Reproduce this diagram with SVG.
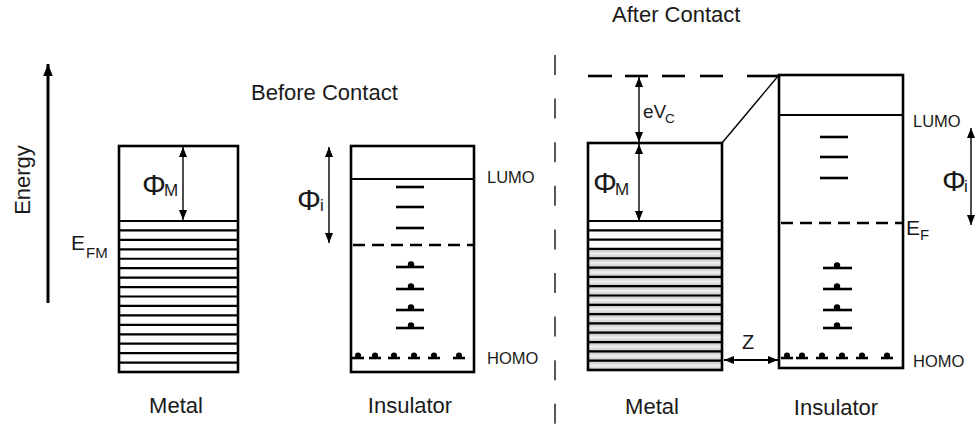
<svg xmlns="http://www.w3.org/2000/svg" width="975" height="435" viewBox="0 0 975 435">
<style>
text{font-family:"Liberation Sans",Arial,sans-serif;fill:#1a1a1a}
.t{font-size:22px}
.lab{font-size:16.5px}
.phi{font-size:30px}
.sub{font-size:17px}
.box{fill:none;stroke:#000;stroke-width:2.6}
.band{stroke:#000;stroke-width:2.2}
.lvl{stroke:#000;stroke-width:2.6}
.dash{stroke:#000;stroke-width:2.6;stroke-dasharray:12 7}
.thin{stroke:#000;stroke-width:1.4;fill:none}
.dot{fill:#000}
</style>
<defs>
<marker id="ah" viewBox="0 0 10 8" refX="10" refY="4" markerWidth="10" markerHeight="8" markerUnits="userSpaceOnUse" orient="auto-start-reverse"><path d="M0,0 L10,4 L0,8 z" fill="#000"/></marker>
<marker id="ahBig" viewBox="0 0 10 8" refX="10" refY="4" markerWidth="12" markerHeight="10" markerUnits="userSpaceOnUse" orient="auto"><path d="M0,0 L10,4 L0,8 z" fill="#000"/></marker>
<linearGradient id="strip" x1="0" y1="0" x2="0" y2="1">
<stop offset="0" stop-color="#b8b8b8"/><stop offset="0.5" stop-color="#f0f0f0"/><stop offset="1" stop-color="#c0c0c0"/>
</linearGradient>
</defs>

<!-- Titles -->
<text class="t" x="251" y="100">Before Contact</text>
<text class="t" x="612" y="22">After Contact</text>

<!-- Divider -->
<line x1="555" y1="55" x2="555" y2="435" stroke="#000" stroke-width="1.3" stroke-dasharray="20 23.6"/>

<!-- Energy axis -->
<g id="energy-axis">
<text class="t" transform="translate(30,180) rotate(-90)" text-anchor="middle">Energy</text>
</g>

<!-- Metal before -->
<g id="metal-before">
<rect x="119" y="146" width="119" height="226" fill="#fff"/>
<g class="band">
<line x1="119" y1="221" x2="238" y2="221"/>
<line x1="119" y1="230.44" x2="238" y2="230.44"/>
<line x1="119" y1="239.88" x2="238" y2="239.88"/>
<line x1="119" y1="249.32" x2="238" y2="249.32"/>
<line x1="119" y1="258.76" x2="238" y2="258.76"/>
<line x1="119" y1="268.2" x2="238" y2="268.2"/>
<line x1="119" y1="277.64" x2="238" y2="277.64"/>
<line x1="119" y1="287.08" x2="238" y2="287.08"/>
<line x1="119" y1="296.52" x2="238" y2="296.52"/>
<line x1="119" y1="305.96" x2="238" y2="305.96"/>
<line x1="119" y1="315.4" x2="238" y2="315.4"/>
<line x1="119" y1="324.84" x2="238" y2="324.84"/>
<line x1="119" y1="334.28" x2="238" y2="334.28"/>
<line x1="119" y1="343.72" x2="238" y2="343.72"/>
<line x1="119" y1="353.16" x2="238" y2="353.16"/>
<line x1="119" y1="362.6" x2="238" y2="362.6"/>
</g>
<rect class="box" x="119" y="146" width="119" height="226"/>
<text class="phi" x="142" y="195">Φ</text><text class="sub" x="164" y="196">M</text>
<text x="71" y="250" font-size="21">E</text><text x="86" y="258" font-size="15">FM</text>
<text class="t" x="176" y="413" text-anchor="middle">Metal</text>
</g>

<!-- Insulator before -->
<g id="insulator-before">
<rect class="box" x="351" y="146" width="123" height="226"/>
<line class="band" x1="351" y1="179" x2="474" y2="179" stroke-width="2.6"/>
<line class="dash" x1="353" y1="245" x2="474" y2="245"/>
<line class="lvl" x1="396" y1="187" x2="424" y2="187"/>
<line class="lvl" x1="396" y1="207" x2="424" y2="207"/>
<line class="lvl" x1="396" y1="228" x2="424" y2="228"/>
<line class="lvl" x1="396" y1="267" x2="424" y2="267"/><circle class="dot" cx="411" cy="264.5" r="3.2"/>
<line class="lvl" x1="396" y1="289" x2="424" y2="289"/><circle class="dot" cx="411" cy="286.5" r="3.2"/>
<line class="lvl" x1="396" y1="310" x2="424" y2="310"/><circle class="dot" cx="411" cy="307.5" r="3.2"/>
<line class="lvl" x1="396" y1="328" x2="424" y2="328"/><circle class="dot" cx="411" cy="325.5" r="3.2"/>
<g>
<line class="lvl" x1="352" y1="358" x2="364" y2="358" stroke-width="2"/><circle class="dot" cx="358" cy="355.5" r="3"/>
<line class="lvl" x1="369" y1="358" x2="381" y2="358" stroke-width="2"/><circle class="dot" cx="375" cy="355.5" r="3"/>
<line class="lvl" x1="388" y1="358" x2="400" y2="358" stroke-width="2"/><circle class="dot" cx="394" cy="355.5" r="3"/>
<line class="lvl" x1="408" y1="358" x2="420" y2="358" stroke-width="2"/><circle class="dot" cx="414" cy="355.5" r="3"/>
<line class="lvl" x1="428" y1="358" x2="440" y2="358" stroke-width="2"/><circle class="dot" cx="434" cy="355.5" r="3"/>
<line class="lvl" x1="453" y1="358" x2="465" y2="358" stroke-width="2"/><circle class="dot" cx="459" cy="355.5" r="3"/>
</g>
<text class="lab" x="487" y="183">LUMO</text>
<text class="lab" x="487" y="364">HOMO</text>
<text class="phi" x="297" y="210">Φ</text><text class="sub" x="320" y="211">i</text>
<text class="t" x="410" y="413" text-anchor="middle">Insulator</text>
</g>

<!-- Metal after -->
<g id="metal-after">
<rect x="588" y="143" width="134" height="227" fill="#fff"/>
<g fill="url(#strip)">
<rect x="588" y="248.93" width="134" height="9.31"/>
<rect x="588" y="258.24" width="134" height="9.31"/>
<rect x="588" y="267.55" width="134" height="9.31"/>
<rect x="588" y="276.86" width="134" height="9.31"/>
<rect x="588" y="286.17" width="134" height="9.31"/>
<rect x="588" y="295.48" width="134" height="9.31"/>
<rect x="588" y="304.79" width="134" height="9.31"/>
<rect x="588" y="314.1" width="134" height="9.31"/>
<rect x="588" y="323.41" width="134" height="9.31"/>
<rect x="588" y="332.72" width="134" height="9.31"/>
<rect x="588" y="342.03" width="134" height="9.31"/>
<rect x="588" y="351.34" width="134" height="9.31"/>
<rect x="588" y="360.65" width="134" height="9.35"/>
</g>
<g class="band">
<line x1="588" y1="221" x2="722" y2="221"/>
<line x1="588" y1="230.31" x2="722" y2="230.31"/>
<line x1="588" y1="239.62" x2="722" y2="239.62"/>
<line x1="588" y1="248.93" x2="722" y2="248.93"/>
<line x1="588" y1="258.24" x2="722" y2="258.24"/>
<line x1="588" y1="267.55" x2="722" y2="267.55"/>
<line x1="588" y1="276.86" x2="722" y2="276.86"/>
<line x1="588" y1="286.17" x2="722" y2="286.17"/>
<line x1="588" y1="295.48" x2="722" y2="295.48"/>
<line x1="588" y1="304.79" x2="722" y2="304.79"/>
<line x1="588" y1="314.1" x2="722" y2="314.1"/>
<line x1="588" y1="323.41" x2="722" y2="323.41"/>
<line x1="588" y1="332.72" x2="722" y2="332.72"/>
<line x1="588" y1="342.03" x2="722" y2="342.03"/>
<line x1="588" y1="351.34" x2="722" y2="351.34"/>
<line x1="588" y1="360.65" x2="722" y2="360.65"/>
</g>
<rect class="box" x="588" y="143" width="134" height="227"/>
<text class="phi" x="593" y="193">Φ</text><text class="sub" x="615" y="195">M</text>
<text class="t" x="652" y="414" text-anchor="middle">Metal</text>
</g>

<!-- Vacuum level after contact -->
<g id="vacuum-level">
<g stroke="#000" stroke-width="2.6">
<line x1="588" y1="76" x2="612" y2="76"/>
<line x1="625" y1="76" x2="648" y2="76"/>
<line x1="662" y1="76" x2="685" y2="76"/>
<line x1="700" y1="76" x2="723" y2="76"/>
<line x1="747" y1="76" x2="779" y2="76"/>
</g>
<text x="643" y="118" font-size="19">eV</text><text x="665" y="123" font-size="13.5">C</text>
</g>

<!-- Insulator after -->
<g id="insulator-after">
<rect class="box" x="779" y="75" width="124" height="293"/>
<line class="band" x1="779" y1="115" x2="903" y2="115" stroke-width="2.6"/>
<line class="dash" x1="781" y1="223" x2="903" y2="223"/>
<line class="lvl" x1="820" y1="137" x2="848" y2="137"/>
<line class="lvl" x1="820" y1="157" x2="848" y2="157"/>
<line class="lvl" x1="820" y1="178" x2="848" y2="178"/>
<line class="lvl" x1="823" y1="268" x2="852" y2="268"/><circle class="dot" cx="837" cy="265.5" r="3.2"/>
<line class="lvl" x1="823" y1="289" x2="852" y2="289"/><circle class="dot" cx="837" cy="286.5" r="3.2"/>
<line class="lvl" x1="823" y1="310" x2="852" y2="310"/><circle class="dot" cx="837" cy="307.5" r="3.2"/>
<line class="lvl" x1="823" y1="328" x2="852" y2="328"/><circle class="dot" cx="837" cy="325.5" r="3.2"/>
<g>
<line class="lvl" x1="781" y1="358" x2="793" y2="358" stroke-width="2"/><circle class="dot" cx="787" cy="355.5" r="3"/>
<line class="lvl" x1="796" y1="358" x2="808" y2="358" stroke-width="2"/><circle class="dot" cx="802" cy="355.5" r="3"/>
<line class="lvl" x1="816" y1="358" x2="828" y2="358" stroke-width="2"/><circle class="dot" cx="822" cy="355.5" r="3"/>
<line class="lvl" x1="836" y1="358" x2="848" y2="358" stroke-width="2"/><circle class="dot" cx="842" cy="355.5" r="3"/>
<line class="lvl" x1="856" y1="358" x2="868" y2="358" stroke-width="2"/><circle class="dot" cx="862" cy="355.5" r="3"/>
<line class="lvl" x1="881" y1="358" x2="893" y2="358" stroke-width="2"/><circle class="dot" cx="887" cy="355.5" r="3"/>
</g>
<text class="lab" x="913" y="127">LUMO</text>
<text class="lab" x="913" y="367">HOMO</text>
<text x="906" y="235" font-size="21">E</text><text x="920" y="240" font-size="15">F</text>
<text class="phi" x="942" y="191">Φ</text><text class="sub" x="964" y="192">i</text>
<text class="t" x="836" y="415" text-anchor="middle">Insulator</text>
<text x="742" y="349" font-size="20">Z</text>
</g>

<!-- Connectors -->
<g id="connectors">
<line x1="48" y1="303" x2="48" y2="64" stroke="#000" stroke-width="3" marker-end="url(#ahBig)"/>
<line class="thin" x1="183" y1="147" x2="183" y2="220" marker-start="url(#ah)" marker-end="url(#ah)"/>
<line class="thin" x1="329" y1="147" x2="329" y2="243" marker-start="url(#ah)" marker-end="url(#ah)"/>
<line class="thin" x1="639" y1="77" x2="639" y2="142" marker-start="url(#ah)" marker-end="url(#ah)"/>
<line class="thin" x1="639" y1="144" x2="639" y2="221" marker-start="url(#ah)" marker-end="url(#ah)"/>
<line class="thin" x1="971" y1="128" x2="971" y2="225" marker-start="url(#ah)" marker-end="url(#ah)"/>
<line class="thin" x1="722" y1="143" x2="779" y2="75"/>
<line x1="724" y1="360" x2="778" y2="360" stroke="#000" stroke-width="2" marker-start="url(#ah)" marker-end="url(#ah)"/>
</g>
</svg>
